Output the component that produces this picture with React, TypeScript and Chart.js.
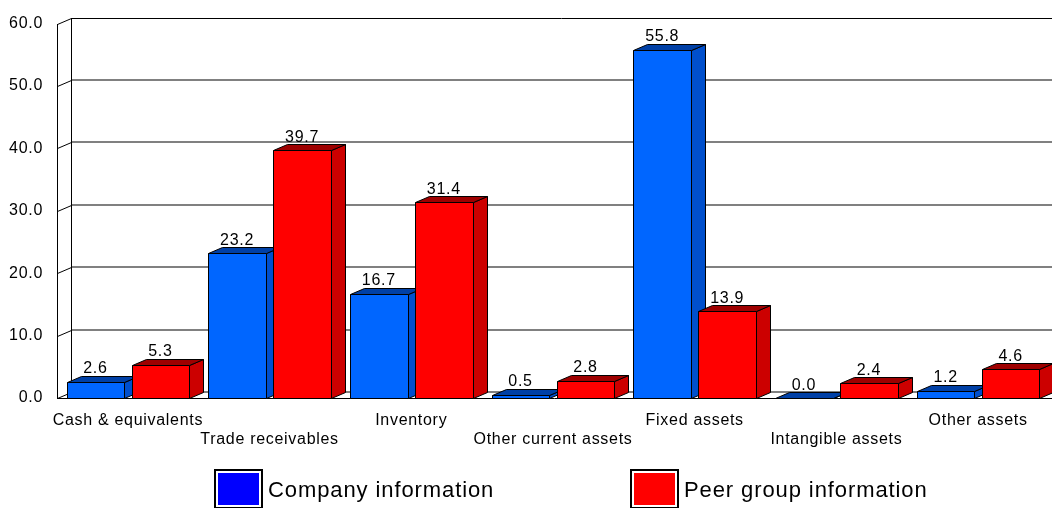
import React, { useEffect, useRef } from "react";
import { Chart, registerables } from "chart.js";

Chart.register(...registerables);

const categories = [
  "Cash & equivalents",
  "Trade receivables",
  "Inventory",
  "Other current assets",
  "Fixed assets",
  "Intangible assets",
  "Other assets",
];
const companyValues = [2.6, 23.2, 16.7, 0.5, 55.8, 0.0, 1.2];
const peerValues = [5.3, 39.7, 31.4, 2.8, 13.9, 2.4, 4.6];
const seriesNames = ["Company information", "Peer group information"];
const yMin = 0;
const yMax = 60;
const yStep = 10;

const FONT = "'Liberation Sans', Arial, Helvetica, sans-serif";
const DEPTH_X = 14;
const DEPTH_Y = -6;

const palette = [
  { front: "#0066FF", side: "#004FCC", top: "#0040A6", legend: "#0000FF" },
  { front: "#FF0000", side: "#CC0000", top: "#9E0000", legend: "#FF0000" },
];

// Walls, floor, 3D bars and value labels
const threeDPlugin = {
  id: "threeD",
  beforeDraw(chart: any) {
    chart.ctx.letterSpacing = "0.7px";
  },
  beforeDatasetsDraw(chart: any) {
    const { ctx, chartArea, scales } = chart;
    const y = scales.y;
    const L = chartArea.left;
    const W = chart.width;
    ctx.save();
    ctx.letterSpacing = "0px";
    // back wall gridlines
    for (let v = yMin; v <= yMax; v += yStep) {
      const py = Math.round(y.getPixelForValue(v)) + DEPTH_Y;
      if (v === yMax) {
        ctx.strokeStyle = "#000";
        ctx.lineWidth = 1;
        ctx.beginPath();
        ctx.moveTo(L + DEPTH_X, py + 0.5);
        ctx.lineTo(W, py + 0.5);
        ctx.stroke();
      } else {
        ctx.strokeStyle = "#808080";
        ctx.lineWidth = 2;
        ctx.beginPath();
        ctx.moveTo(L + DEPTH_X, py);
        ctx.lineTo(W, py);
        ctx.stroke();
      }
    }
    const top = Math.round(y.getPixelForValue(yMax));
    const bot = Math.round(y.getPixelForValue(yMin));
    ctx.strokeStyle = "#000";
    ctx.lineWidth = 1;
    // back wall left edge
    ctx.beginPath();
    ctx.moveTo(L + DEPTH_X + 0.5, top + DEPTH_Y);
    ctx.lineTo(L + DEPTH_X + 0.5, bot + DEPTH_Y);
    ctx.stroke();
    // side wall front edge
    ctx.beginPath();
    ctx.moveTo(L + 0.5, top);
    ctx.lineTo(L + 0.5, bot);
    ctx.stroke();
    // side wall tick slants
    for (let v = yMin; v <= yMax; v += yStep) {
      const py = Math.round(y.getPixelForValue(v));
      ctx.beginPath();
      ctx.moveTo(L + 0.5, py + 0.5);
      ctx.lineTo(L + DEPTH_X + 0.5, py + DEPTH_Y + 0.5);
      ctx.stroke();
    }
    // floor front edge
    ctx.beginPath();
    ctx.moveTo(L, bot + 0.5);
    ctx.lineTo(W, bot + 0.5);
    ctx.stroke();
    ctx.restore();
  },
  afterDatasetsDraw(chart: any) {
    const { ctx } = chart;
    const metas = [chart.getDatasetMeta(0), chart.getDatasetMeta(1)];
    ctx.save();
    ctx.lineWidth = 1;
    ctx.strokeStyle = "#000";
    ctx.lineJoin = "miter";
    const poly = (pts: number[][], fill: string) => {
      ctx.beginPath();
      ctx.moveTo(pts[0][0], pts[0][1]);
      for (let k = 1; k < pts.length; k++) ctx.lineTo(pts[k][0], pts[k][1]);
      ctx.closePath();
      ctx.fillStyle = fill;
      ctx.fill();
      ctx.stroke();
    };
    for (let i = 0; i < categories.length; i++) {
      metas.forEach((meta: any, d: number) => {
        const el = meta.data[i];
        const { x, y, base, width } = el.getProps(["x", "y", "base", "width"], true);
        const x0 = Math.round(x - width / 2) + 0.5;
        const x1 = Math.round(x + width / 2) + 0.5;
        const yt = Math.round(y) + 0.5;
        const yb = Math.round(base) + 0.5;
        const c = palette[d];
        // side face
        poly(
          [
            [x1, yt],
            [x1 + DEPTH_X, yt + DEPTH_Y],
            [x1 + DEPTH_X, yb + DEPTH_Y],
            [x1, yb],
          ],
          c.side
        );
        // top face
        poly(
          [
            [x0, yt],
            [x1, yt],
            [x1 + DEPTH_X, yt + DEPTH_Y],
            [x0 + DEPTH_X, yt + DEPTH_Y],
          ],
          c.top
        );
        // front face
        if (yb - yt > 0) {
          poly(
            [
              [x0, yt],
              [x1, yt],
              [x1, yb],
              [x0, yb],
            ],
            c.front
          );
        }
      });
    }
    // value labels
    ctx.fillStyle = "#000";
    ctx.font = `16px ${FONT}`;
    ctx.textAlign = "center";
    ctx.textBaseline = "alphabetic";
    ctx.letterSpacing = "0.7px";
    metas.forEach((meta: any, d: number) => {
      const vals = d === 0 ? companyValues : peerValues;
      meta.data.forEach((el: any, i: number) => {
        const { x, y } = el.getProps(["x", "y"], true);
        ctx.fillText(vals[i].toFixed(1), x, y - 8.5);
      });
    });
    ctx.restore();
  },
  afterDraw(chart: any) {
    const { ctx } = chart;
    ctx.save();
    const boxes = [214, 630];
    boxes.forEach((bx, d) => {
      ctx.strokeStyle = "#000";
      ctx.lineWidth = 2;
      ctx.strokeRect(bx + 1, 470, 47, 38);
      ctx.fillStyle = palette[d].legend;
      ctx.fillRect(bx + 4, 473, 41, 32);
      ctx.fillStyle = "#000";
      ctx.font = `22px ${FONT}`;
      ctx.letterSpacing = "0.9px";
      ctx.textAlign = "left";
      ctx.textBaseline = "alphabetic";
      ctx.fillText(seriesNames[d], bx + 54, 497);
    });
    ctx.restore();
  },
};

export default function App() {
  const canvasRef = useRef<HTMLCanvasElement | null>(null);

  useEffect(() => {
    if (!canvasRef.current) return;
    const labels = categories.map((c, i) => (i % 2 === 0 ? [c] : ["", c]));
    const chart = new Chart(canvasRef.current, {
      type: "bar",
      data: {
        labels,
        datasets: [
          {
            label: seriesNames[0],
            data: companyValues,
            backgroundColor: "rgba(0,0,0,0)",
            borderWidth: 0,
          },
          {
            label: seriesNames[1],
            data: peerValues,
            backgroundColor: "rgba(0,0,0,0)",
            borderWidth: 0,
          },
        ],
      },
      options: {
        responsive: false,
        animation: false,
        devicePixelRatio: 1,
        categoryPercentage: 0.917,
        barPercentage: 0.885,
        layout: { padding: { top: 19, right: 3, left: 0, bottom: 0 } },
        plugins: {
          legend: { display: false },
          tooltip: { enabled: false },
        },
        scales: {
          x: {
            grid: { display: false, drawTicks: false },
            border: { display: false },
            ticks: {
              autoSkip: false,
              maxRotation: 0,
              minRotation: 0,
              padding: 13.5,
              color: "#000",
              font: { family: FONT, size: 16, lineHeight: "19px" },
            },
            afterFit: (scale: any) => {
              scale.height = 110;
            },
          },
          y: {
            min: yMin,
            max: yMax,
            grid: { display: false, drawTicks: false },
            border: { display: false },
            ticks: {
              stepSize: yStep,
              padding: 14,
              color: "#000",
              font: { family: FONT, size: 16 },
              callback: (v: any) => Number(v).toFixed(1),
            },
            afterFit: (scale: any) => {
              scale.width = 57;
            },
          },
        },
      },
      plugins: [threeDPlugin],
    });
    return () => chart.destroy();
  }, []);

  return (
    <div style={{ position: "fixed", left: 0, top: 0, width: 1052, height: 508, background: "#fff" }}>
      <canvas ref={canvasRef} width={1052} height={508} style={{ display: "block" }} />
    </div>
  );
}
